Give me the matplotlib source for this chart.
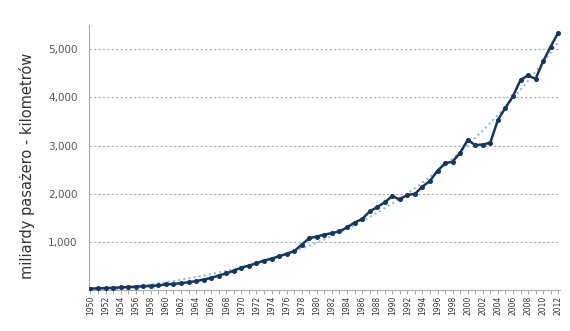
import numpy as np
import matplotlib
matplotlib.use('Agg')
import matplotlib.pyplot as plt
from matplotlib.ticker import FuncFormatter

years = list(range(1950, 2013))
rpk = [28, 32, 38, 45, 52, 60, 68, 77, 82, 95,
       115, 125, 140, 160, 185, 215, 250, 300, 345, 400,
       465, 505, 555, 610, 650, 700, 750, 805, 940, 1075,
       1110, 1150, 1180, 1215, 1300, 1400, 1470, 1630, 1720, 1820,
       1950, 1880, 1975, 1995, 2145, 2265, 2475, 2630, 2665, 2850,
       3115, 3010, 3020, 3060, 3530, 3785, 4020, 4365, 4455, 4385,
       4750, 5055, 5340]
ylabel = 'miliardy pasażero - kilometrów'

x = np.array(years)
y = np.array(rpk)
# trendline fitted to the series (like the spreadsheet one)
trend = np.polyval(np.polyfit(x - 1950, y, 3), x - 1950)

fig = plt.figure(figsize=(5.7, 3.31), dpi=100)
ax = fig.add_axes([0.156, 0.124, 0.826, 0.80])

ax.plot(x, trend, linestyle=(0, (1, 1.5)), color='#95b9e4', linewidth=1.5, zorder=3)
ax.plot(x, y, color='#17375e', linewidth=1.8, marker='o', markersize=2.6, zorder=4)

ax.set_xlim(1949.8, 2012.2)
ax.set_ylim(0, 5500)
ax.set_yticks([1000, 2000, 3000, 4000, 5000])
ax.yaxis.set_major_formatter(FuncFormatter(lambda v, p: f'{int(v):,}'))
ax.set_xticks(range(1950, 2013, 2))
ax.set_xticks(range(1951, 2013, 2), minor=True)
ax.tick_params(axis='x', labelrotation=90, labelsize=5.5, colors='#333333', length=3, width=0.6, pad=1)
ax.tick_params(axis='x', which='minor', length=3, width=0.6, color='#999999')
ax.tick_params(axis='x', which='major', color='#999999')
ax.tick_params(axis='y', labelsize=7.5, colors='#555555', length=0, pad=8)

ax.grid(axis='y', linestyle=(0, (2, 2)), color='#aaaaaa', linewidth=0.8)
for s in ['top', 'right']:
    ax.spines[s].set_visible(False)
for s in ['left', 'bottom']:
    ax.spines[s].set_color('#aaaaaa')
    ax.spines[s].set_linewidth(0.8)

ax.set_ylabel(ylabel, fontsize=10.5, color='#333333')
ax.yaxis.set_label_coords(-0.115, 0.47)

fig.savefig('out.png', dpi=100)
